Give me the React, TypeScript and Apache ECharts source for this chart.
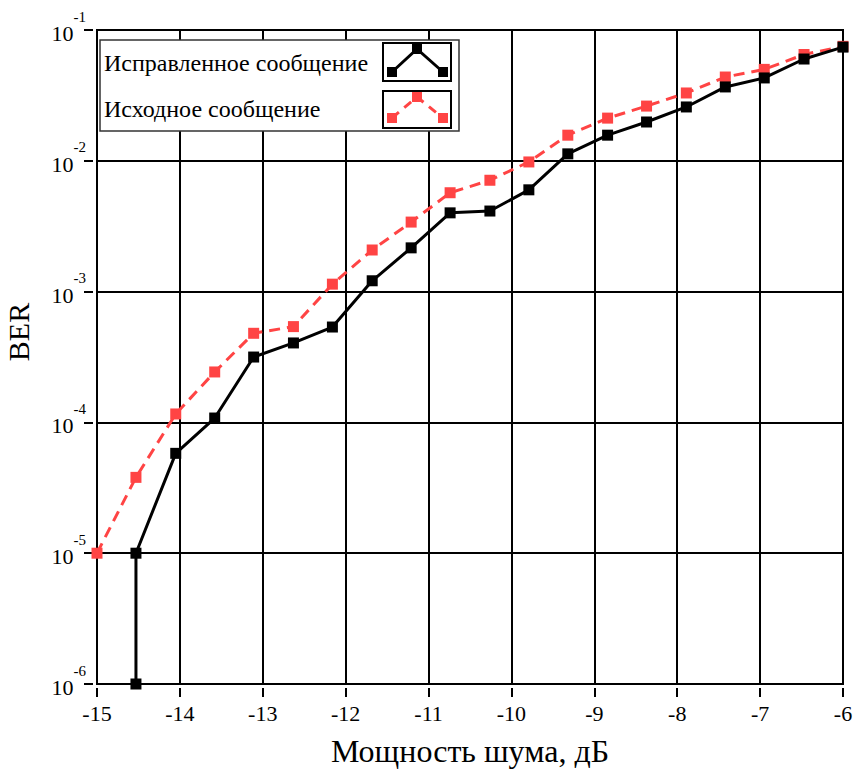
import React, { useEffect, useRef } from "react";
import * as echarts from "echarts";

const FONT = "Liberation Serif";

// x values (noise power, dB)
const noiseRed = [-15, -14.53, -14.05, -13.58, -13.11, -12.63, -12.16, -11.68, -11.21, -10.74, -10.26, -9.79, -9.32, -8.84, -8.37, -7.89, -7.42, -6.95, -6.47, -6];
const berOriginal = [1e-5, 3.8e-5, 1.16e-4, 2.43e-4, 4.8e-4, 5.4e-4, 1.14e-3, 2.08e-3, 3.4e-3, 5.7e-3, 7.1e-3, 9.8e-3, 1.57e-2, 2.12e-2, 2.62e-2, 3.3e-2, 4.37e-2, 5.0e-2, 6.5e-2, 7.5e-2];

const noiseBlack = [-14.53, -14.53, -14.05, -13.58, -13.11, -12.63, -12.16, -11.68, -11.21, -10.74, -10.26, -9.79, -9.32, -8.84, -8.37, -7.89, -7.42, -6.95, -6.47, -6];
const berCorrected = [1e-6, 1e-5, 5.8e-5, 1.08e-4, 3.16e-4, 4.05e-4, 5.36e-4, 1.21e-3, 2.16e-3, 4.0e-3, 4.13e-3, 6.0e-3, 1.13e-2, 1.57e-2, 1.98e-2, 2.58e-2, 3.67e-2, 4.3e-2, 6.0e-2, 7.4e-2];

const seriesNames = ["Исправленное сообщение", "Исходное сообщение"];
const xAxisName = "Мощность шума, дБ";
const yAxisName = "BER";

const RED = "#FF4444";

export default function App() {
  const ref = useRef<HTMLDivElement>(null);

  useEffect(() => {
    if (!ref.current) return;
    const chart = echarts.init(ref.current, undefined, { renderer: "svg" });

    const redData = noiseRed.map((x, i) => [x, berOriginal[i]]);
    const blackData = noiseBlack.map((x, i) => [x, berCorrected[i]]);

    const legendGraphic: any[] = [
      {
        type: "rect",
        shape: { x: 100, y: 40, width: 359, height: 91 },
        style: { fill: "#fff", stroke: "#333", lineWidth: 1.5 },
        z: 100,
      },
      {
        type: "text",
        x: 104,
        y: 63,
        style: { text: seriesNames[0], fontSize: 24, fontFamily: FONT, fill: "#000", verticalAlign: "middle" },
        z: 101,
      },
      {
        type: "text",
        x: 104,
        y: 109,
        style: { text: seriesNames[1], fontSize: 24, fontFamily: FONT, fill: "#000", verticalAlign: "middle" },
        z: 101,
      },
      {
        type: "rect",
        shape: { x: 383, y: 43, width: 68, height: 38 },
        style: { fill: "#fff", stroke: "#000", lineWidth: 2 },
        z: 101,
      },
      {
        type: "rect",
        shape: { x: 383, y: 91, width: 68, height: 37 },
        style: { fill: "#fff", stroke: "#000", lineWidth: 2 },
        z: 101,
      },
      {
        type: "polyline",
        shape: { points: [[392, 72], [417, 49], [443, 72]] },
        style: { stroke: "#000", lineWidth: 3, fill: null },
        z: 102,
      },
      {
        type: "polyline",
        shape: { points: [[392, 118], [417, 97], [443, 118]] },
        style: { stroke: RED, lineWidth: 3, fill: null, lineDash: [9, 7] },
        z: 102,
      },
    ];
    const markerPts = [
      [392, 72, "#000"], [417, 49, "#000"], [443, 72, "#000"],
      [392, 118, RED], [417, 97, RED], [443, 118, RED],
    ];
    markerPts.forEach(([x, y, c]) => {
      legendGraphic.push({
        type: "rect",
        shape: { x: (x as number) - 5, y: (y as number) - 5, width: 10, height: 10 },
        style: { fill: c as string },
        z: 103,
      });
    });

    chart.setOption({
      animation: false,
      backgroundColor: "#fff",
      textStyle: { fontFamily: FONT },
      grid: {
        left: 97,
        top: 30,
        right: 14,
        bottom: 85,
        show: true,
        borderColor: "#000",
        borderWidth: 2,
        containLabel: false,
        outerBoundsMode: "none",
      },
      xAxis: {
        type: "value",
        min: -15,
        max: -6,
        interval: 1,
        offset: 4,
        name: xAxisName,
        nameLocation: "middle",
        nameGap: 47,
        nameTextStyle: { fontSize: 32, fontFamily: FONT, color: "#000" },
        axisLine: { show: false },
        axisTick: { show: true, length: 9, lineStyle: { color: "#000", width: 2 } },
        axisLabel: { margin: 14, fontSize: 22, fontFamily: FONT, color: "#000" },
        splitLine: { show: true, lineStyle: { color: "#000", width: 2 } },
      },
      yAxis: {
        type: "log",
        logBase: 10,
        min: 1e-6,
        max: 1e-1,
        splitNumber: 5,
        offset: 4,
        name: yAxisName,
        nameLocation: "middle",
        nameGap: 60,
        nameTextStyle: { fontSize: 30, fontFamily: FONT, color: "#000", padding: [0, 0, 0, 50] },
        axisLine: { show: false },
        axisTick: { show: true, length: 9, lineStyle: { color: "#000", width: 2 } },
        axisLabel: {
          margin: 7,
          padding: [7, 0, 0, 0],
          fontFamily: FONT,
          formatter: (v: number) => {
            const e = Math.round(Math.log10(v));
            return `{b|10}{s|${e}}`;
          },
          rich: {
            b: { fontSize: 22, fontFamily: FONT, color: "#000", lineHeight: 49 },
            s: { fontSize: 15, fontFamily: FONT, color: "#000", lineHeight: 15, verticalAlign: "top" },
          },
        },
        splitLine: { show: true, lineStyle: { color: "#000", width: 2 } },
      },
      series: [
        {
          name: seriesNames[1],
          type: "line",
          data: redData,
          clip: false,
          symbol: "rect",
          symbolSize: 11,
          itemStyle: { color: RED },
          lineStyle: { color: RED, width: 3, type: [11, 7] },
          z: 3,
        },
        {
          name: seriesNames[0],
          type: "line",
          data: blackData,
          clip: false,
          symbol: "rect",
          symbolSize: 11,
          itemStyle: { color: "#000" },
          lineStyle: { color: "#000", width: 3 },
          z: 4,
        },
      ],
      graphic: legendGraphic,
    });

    return () => chart.dispose();
  }, []);

  return (
    <div
      ref={ref}
      style={{ position: "absolute", left: 0, top: 0, width: 857, height: 769 }}
    />
  );
}
